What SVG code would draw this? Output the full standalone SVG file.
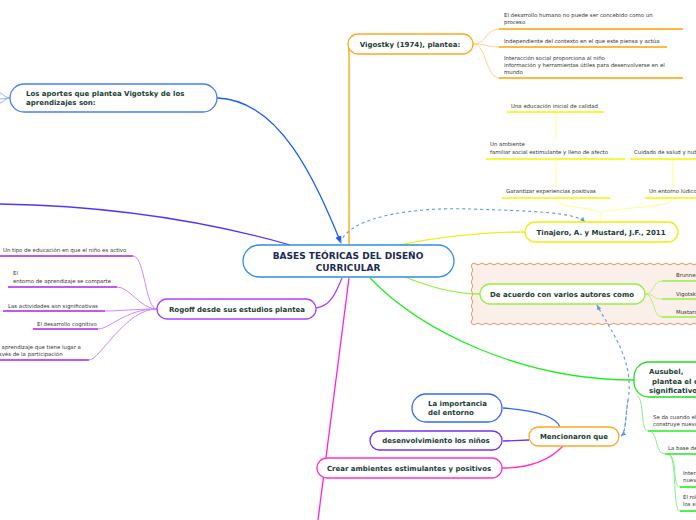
<svg xmlns="http://www.w3.org/2000/svg" width="696" height="520" viewBox="0 0 696 520">
<defs>
<style>
.n{font-family:"DejaVu Sans",Verdana,sans-serif;font-weight:bold;font-size:7px;fill:#1a3d33}
.c{font-family:"DejaVu Sans",Verdana,sans-serif;font-weight:bold;font-size:9px;fill:#1b2a55}
.s{font-family:"DejaVu Sans",Verdana,sans-serif;font-size:5.4px;fill:#333}
.box{fill:#fff;stroke-width:1.3}
.ln{fill:none;stroke-width:1.3}
.thin{fill:none;stroke-width:1}
.ul{fill:none;stroke-width:1.6}
.dash{fill:none;stroke:#5a9be0;stroke-width:1.1;stroke-dasharray:3,3}
</style>
<marker id="ab" viewBox="0 0 10 10" refX="9" refY="5" markerWidth="6" markerHeight="6" orient="auto"><path d="M0,1 L10,5 L0,9 Z" fill="#1a5cff"/></marker>
<marker id="ad" viewBox="0 0 10 10" refX="9" refY="5" markerWidth="5" markerHeight="5" orient="auto"><path d="M0,1 L10,5 L0,9 Z" fill="#5a9be0"/></marker>
</defs>

<!-- background wavy box -->
<g id="bgbox">
<rect x="472" y="264" width="230" height="60" fill="#fbefe9"/>
<path fill="none" stroke="#e8956a" stroke-width="1" d="M472,264 q2,-1.6 4,0 t4,0 t4,0 t4,0 t4,0 t4,0 t4,0 t4,0 t4,0 t4,0 t4,0 t4,0 t4,0 t4,0 t4,0 t4,0 t4,0 t4,0 t4,0 t4,0 t4,0 t4,0 t4,0 t4,0 t4,0 t4,0 t4,0 t4,0 t4,0 t4,0 t4,0 t4,0 t4,0 t4,0 t4,0 t4,0 t4,0 t4,0 t4,0 t4,0 t4,0 t4,0 t4,0 t4,0 t4,0 t4,0 t4,0 t4,0 t4,0 t4,0 t4,0 t4,0 t4,0 t4,0 t4,0 t4,0 t4,0"/>
<path fill="none" stroke="#e8956a" stroke-width="1" d="M472,324 q2,1.6 4,0 t4,0 t4,0 t4,0 t4,0 t4,0 t4,0 t4,0 t4,0 t4,0 t4,0 t4,0 t4,0 t4,0 t4,0 t4,0 t4,0 t4,0 t4,0 t4,0 t4,0 t4,0 t4,0 t4,0 t4,0 t4,0 t4,0 t4,0 t4,0 t4,0 t4,0 t4,0 t4,0 t4,0 t4,0 t4,0 t4,0 t4,0 t4,0 t4,0 t4,0 t4,0 t4,0 t4,0 t4,0 t4,0 t4,0 t4,0 t4,0 t4,0 t4,0 t4,0 t4,0 t4,0 t4,0 t4,0 t4,0"/>
<path fill="none" stroke="#e8956a" stroke-width="1" d="M472,324 q-1.6,-2 0,-4 t0,-4 t0,-4 t0,-4 t0,-4 t0,-4 t0,-4 t0,-4 t0,-4 t0,-4 t0,-4 t0,-4 t0,-4 t0,-4 t0,-4"/>
</g>

<!-- connectors -->
<g id="connectors">
<path class="ln" stroke="#1a5cff" d="M217,98 C280,100 315,180 341,243" marker-end="url(#ab)"/>
<path class="ln" stroke="#ffa000" stroke-width="1.6" d="M349,48 L349,245"/>
<path class="ln" stroke="#5533ff" stroke-width="1.6" d="M0,204 C120,206 220,225 290,245"/>
<path class="ln" stroke="#eeee22" d="M400,245 C440,236 490,232 525,232"/>
<path class="ln" stroke="#99ee44" d="M385,268 C420,285 450,294 480,294"/>
<path class="ln" stroke="#22ee22" d="M370,278 C420,330 520,380 634,380"/>
<path class="ln" stroke="#ff22dd" stroke-width="1.6" d="M349,278 L318,520"/>
<path class="ln" stroke="#aa44ff" d="M342,278 C335,295 330,306 316,308"/>
<path class="dash" d="M340,243 C350,215 420,207 470,209 C530,211 575,212 585,222" marker-end="url(#ad)"/>
<path class="dash" d="M621,436 C626,432 625,420 628,400 C635,360 610,330 597,305" marker-end="url(#ad)"/>
<path class="dash" d="M628,400 C625,420 626,432 621,436" marker-end="url(#ad)"/>
<!-- aportes stubs -->
<path class="thin" stroke="#8fb4ff" d="M10,98 C5,98 4,94 0,93 M10,98 L0,99 M10,98 C5,98 4,102 0,103"/>
<!-- Vigostky 1974 children -->
<path class="thin" stroke="#ffd08a" d="M473,44 C487,44 485,29 500,29 M473,44 C487,44 487,47 500,47 M473,44 C487,44 485,78 500,78"/>
<!-- Tinajero children -->
<path class="thin" stroke="#ffff88" d="M601,222 L601,215 C601,206 560,210 556,199 M601,215 C601,206 668,210 673,199 M556,113 L556,139 M556,160 L556,188 M673,160 L673,188"/>
<!-- de acuerdo children -->
<path class="thin" stroke="#bbee77" d="M645,294 C655,294 652,281 662,281 M645,294 C655,294 652,299 662,299 M645,294 C655,294 652,317 662,317"/>
<!-- Ausubel children -->
<path class="thin" stroke="#88ee88" d="M637,396 C645,400 640,431 648,431 M650,431 C658,433 655,454 665,454 M668,454 C678,456 672,487 680,487 M668,454 C678,456 672,511 680,511"/>
<!-- Mencionaron children -->
<path class="ln" stroke="#3366ff" d="M503,408 C530,410 555,415 560,427"/>
<path class="ln" stroke="#7733ee" d="M503,441 L529,440"/>
<path class="ln" stroke="#ff33cc" d="M502,468 C530,468 550,460 563,446"/>
<!-- Rogoff children -->
<path class="thin" stroke="#cc88ff" d="M157,309 C145,309 145,256 133,256 M157,309 C140,309 130,287 117,287 M157,309 C135,309 120,311 105,311 M157,309 C125,309 110,329 98,329 M157,309 C125,309 100,360 89,360"/>
</g>

<!-- central -->
<g id="central">
<rect class="box" x="243" y="245" width="211" height="32" rx="16" stroke="#2f8fe0"/>
<text class="c" x="348" y="259" text-anchor="middle">BASES TEÓRICAS DEL DISEÑO</text>
<text class="c" x="348" y="271" text-anchor="middle">CURRICULAR</text>
</g>

<g id="aportes">
<rect class="box" x="10" y="84" width="207" height="28" rx="14" stroke="#4a7bff"/>
<text class="n" x="26" y="96">Los aportes que plantea Vigotsky de  los</text>
<text class="n" x="26" y="105">aprendizajes son:</text>
</g>

<g id="vigostky1974">
<rect class="box" x="348" y="34" width="125" height="20" rx="10" stroke="#ffa726"/>
<text class="n" x="410" y="46.5" text-anchor="middle">Vigostky (1974), plantea:</text>
</g>
<g id="v1">
<text class="s" x="504" y="17">El desarrollo humano no puede ser concebido como un</text>
<text class="s" x="504" y="24">proceso</text>
<line class="ul" stroke="#ffa000" x1="499" y1="29" x2="683" y2="29"/>
</g>
<g id="v2">
<text class="s" x="504" y="43">Independiente del contexto en el que este piensa y actúa</text>
<line class="ul" stroke="#ffa000" x1="499" y1="47" x2="667" y2="47"/>
</g>
<g id="v3">
<text class="s" x="504" y="60">Interacción social proporciona al niño</text>
<text class="s" x="504" y="67">información y herramientas útiles para desenvolverse en el</text>
<text class="s" x="504" y="74">mundo</text>
<line class="ul" stroke="#ffa000" x1="499" y1="78" x2="683" y2="78"/>
</g>

<g id="tinajero">
<rect class="box" x="525" y="222" width="153" height="20" rx="10" stroke="#eeee00" stroke-width="1.6"/>
<text class="n" x="601" y="234.5" text-anchor="middle">Tinajero, A. y Mustard, J.F., 2011</text>
</g>
<g id="t1">
<text class="s" x="511" y="107.5">Una educación inicial de calidad</text>
<line class="ul" stroke="#f5f500" x1="507" y1="112" x2="604" y2="112"/>
</g>
<g id="t2">
<text class="s" x="490" y="146">Un ambiente</text>
<text class="s" x="490" y="154">familiar social estimulante y lleno de afecto</text>
<line class="ul" stroke="#f5f500" x1="486" y1="159" x2="625" y2="159"/>
</g>
<g id="t3">
<text class="s" x="634" y="154">Cuidado de salud y nutrición</text>
<line class="ul" stroke="#f5f500" x1="630" y1="159" x2="700" y2="159"/>
</g>
<g id="t4">
<text class="s" x="506" y="192.5">Garantizar experiencias positivas</text>
<line class="ul" stroke="#f5f500" x1="502" y1="198" x2="610" y2="198"/>
</g>
<g id="t5">
<text class="s" x="649" y="192.5">Un entorno lúdico</text>
<line class="ul" stroke="#f5f500" x1="645" y1="198" x2="700" y2="198"/>
</g>

<g id="acuerdo">
<rect class="box" x="480" y="284" width="165" height="20" rx="10" stroke="#99ee44"/>
<text class="n" x="562" y="296.5" text-anchor="middle">De acuerdo con varios autores como</text>
</g>
<g id="a1"><text class="s" x="676" y="277">Brunner</text><line class="ul" stroke="#99ee44" x1="662" y1="281" x2="700" y2="281"/></g>
<g id="a2"><text class="s" x="676" y="295.5">Vigotsky</text><line class="ul" stroke="#99ee44" x1="662" y1="299" x2="700" y2="299"/></g>
<g id="a3"><text class="s" x="676" y="313.5">Mustard</text><line class="ul" stroke="#99ee44" x1="662" y1="317" x2="700" y2="317"/></g>

<g id="ausubel">
<rect class="box" x="634" y="362" width="90" height="35" rx="15" stroke="#22dd22"/>
<text class="n" x="649" y="374">Ausubel,</text>
<text class="n" x="652" y="384">plantea el concepto</text>
<text class="n" x="649" y="393">significativo</text>
</g>
<g id="u1">
<text class="s" x="653" y="419">Se da cuando el alumno</text>
<text class="s" x="653" y="426">construye nuevos conocimientos</text>
<line class="ul" stroke="#22ee22" x1="648" y1="431" x2="700" y2="431"/>
</g>
<g id="u2">
<text class="s" x="668" y="450">La base del aprendizaje</text>
<line class="ul" stroke="#22ee22" x1="665" y1="454" x2="700" y2="454"/>
</g>
<g id="u3">
<text class="s" x="683" y="475">Interacción</text>
<text class="s" x="683" y="482">nuevos</text>
<line class="ul" stroke="#22ee22" x1="680" y1="487" x2="700" y2="487"/>
</g>
<g id="u4">
<text class="s" x="683" y="499">El  rol</text>
<text class="s" x="683" y="506">los sujetos</text>
<line class="ul" stroke="#22ee22" x1="680" y1="511" x2="700" y2="511"/>
</g>

<g id="mencionaron">
<rect class="box" x="529" y="427" width="90" height="19" rx="9.5" stroke="#ffa726"/>
<text class="n" x="574" y="439" text-anchor="middle">Mencionaron que</text>
</g>
<g id="importancia">
<rect class="box" x="412" y="394" width="90" height="28" rx="14" stroke="#3366ff"/>
<text class="n" x="428" y="406">La importancia</text>
<text class="n" x="428" y="415">del entorno</text>
</g>
<g id="desenvolvimiento">
<rect class="box" x="370" y="431" width="132" height="19" rx="9.5" stroke="#7733ee"/>
<text class="n" x="436" y="443" text-anchor="middle">desenvolvimiento  los niños</text>
</g>
<g id="crear">
<rect class="box" x="317" y="458" width="185" height="20" rx="10" stroke="#ff33cc"/>
<text class="n" x="409" y="470.5" text-anchor="middle">Crear ambientes estimulantes y positivos</text>
</g>

<g id="rogoff">
<rect class="box" x="157" y="299" width="159" height="20" rx="10" stroke="#aa44ff"/>
<text class="n" x="237" y="311.5" text-anchor="middle">Rogoff desde sus estudios plantea</text>
</g>
<g id="r1">
<text class="s" x="3" y="252">Un tipo de educación en que el niño es activo</text>
<line class="ul" stroke="#aa22ee" x1="-2" y1="256" x2="133" y2="256"/>
</g>
<g id="r2">
<text class="s" x="13" y="275">El</text>
<text class="s" x="13" y="283">entorno de aprendizaje se comparte</text>
<line class="ul" stroke="#aa22ee" x1="8" y1="287" x2="117" y2="287"/>
</g>
<g id="r3">
<text class="s" x="8" y="307.5">Las actividades son significativas</text>
<line class="ul" stroke="#aa22ee" x1="3" y1="311" x2="105" y2="311"/>
</g>
<g id="r4">
<text class="s" x="37" y="326">El desarrollo cognitivo</text>
<line class="ul" stroke="#aa22ee" x1="33" y1="329" x2="98" y2="329"/>
</g>
<g id="r5">
<text class="s" x="-5" y="349">El aprendizaje que tiene lugar a</text>
<text class="s" x="-6" y="356">través de la participación</text>
<line class="ul" stroke="#aa22ee" x1="-2" y1="360" x2="89" y2="360"/>
</g>
</svg>
